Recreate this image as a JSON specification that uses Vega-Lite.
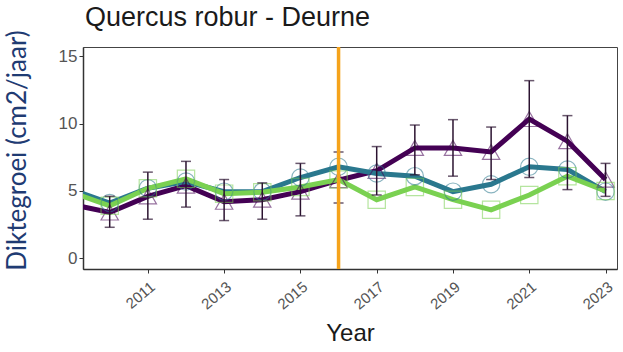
{
  "$schema": "https://vega.github.io/schema/vega-lite/v6.json",
  "width": 534,
  "height": 222,
  "autosize": "none",
  "padding": {"left": 83, "top": 47, "right": 6, "bottom": 83},
  "background": "white",
  "config": {
    "view": {"stroke": "#444", "strokeWidth": 1},
    "axis": {"grid": false, "domainColor": "#333", "domainWidth": 1.5, "tickColor": "#333", "labelColor": "#555", "labelFont": "Liberation Sans", "titleFont": "Liberation Sans"}
  },
  "title": {"text": "Quercus robur - Deurne", "anchor": "start", "frame": "group", "dx": 2, "dy": 14, "offset": 12, "fontSize": 27, "font": "Liberation Sans", "fontWeight": "normal", "color": "#1a1a1a"},
  "datasets": {
    "lines": [
      {"year": 2009, "series": "P", "value": 4.0}, {"year": 2010, "series": "P", "value": 3.4}, {"year": 2011, "series": "P", "value": 4.6}, {"year": 2012, "series": "P", "value": 5.4}, {"year": 2013, "series": "P", "value": 4.2}, {"year": 2014, "series": "P", "value": 4.35}, {"year": 2015, "series": "P", "value": 4.95}, {"year": 2016, "series": "P", "value": 5.8}, {"year": 2017, "series": "P", "value": 6.5}, {"year": 2018, "series": "P", "value": 8.2}, {"year": 2019, "series": "P", "value": 8.2}, {"year": 2020, "series": "P", "value": 7.9}, {"year": 2021, "series": "P", "value": 10.35}, {"year": 2022, "series": "P", "value": 8.7}, {"year": 2023, "series": "P", "value": 5.85},
      {"year": 2009, "series": "T", "value": 5.1}, {"year": 2010, "series": "T", "value": 4.1}, {"year": 2011, "series": "T", "value": 5.2}, {"year": 2012, "series": "T", "value": 5.7}, {"year": 2013, "series": "T", "value": 4.95}, {"year": 2014, "series": "T", "value": 4.95}, {"year": 2015, "series": "T", "value": 6.0}, {"year": 2016, "series": "T", "value": 6.8}, {"year": 2017, "series": "T", "value": 6.3}, {"year": 2018, "series": "T", "value": 6.1}, {"year": 2019, "series": "T", "value": 4.95}, {"year": 2020, "series": "T", "value": 5.5}, {"year": 2021, "series": "T", "value": 6.8}, {"year": 2022, "series": "T", "value": 6.6}, {"year": 2023, "series": "T", "value": 4.95},
      {"year": 2009, "series": "G", "value": 4.9}, {"year": 2010, "series": "G", "value": 3.9}, {"year": 2011, "series": "G", "value": 5.2}, {"year": 2012, "series": "G", "value": 5.9}, {"year": 2013, "series": "G", "value": 4.8}, {"year": 2014, "series": "G", "value": 4.9}, {"year": 2015, "series": "G", "value": 5.3}, {"year": 2016, "series": "G", "value": 5.85}, {"year": 2017, "series": "G", "value": 4.35}, {"year": 2018, "series": "G", "value": 5.3}, {"year": 2019, "series": "G", "value": 4.35}, {"year": 2020, "series": "G", "value": 3.6}, {"year": 2021, "series": "G", "value": 4.7}, {"year": 2022, "series": "G", "value": 6.1}, {"year": 2023, "series": "G", "value": 5.0}
    ],
    "err": [
      {"year": 2010, "lo": 2.3, "hi": 4.6}, {"year": 2011, "lo": 2.9, "hi": 6.4}, {"year": 2012, "lo": 3.8, "hi": 7.2}, {"year": 2013, "lo": 2.8, "hi": 5.85}, {"year": 2014, "lo": 2.9, "hi": 5.6}, {"year": 2015, "lo": 3.15, "hi": 7.05}, {"year": 2016, "lo": 4.1, "hi": 7.9}, {"year": 2017, "lo": 4.7, "hi": 8.3}, {"year": 2018, "lo": 6.2, "hi": 9.9}, {"year": 2019, "lo": 6.1, "hi": 10.3}, {"year": 2020, "lo": 5.85, "hi": 9.75}, {"year": 2021, "lo": 6.0, "hi": 13.2}, {"year": 2022, "lo": 5.1, "hi": 10.6}, {"year": 2023, "lo": 4.6, "hi": 7.05}
    ],
    "marker": [{"year": 2016}]
  },
  "encoding": {
    "x": {"field": "year", "type": "quantitative", "scale": {"domain": [2009.3, 2023.3], "nice": false, "zero": false},
      "axis": {"title": "Year", "values": [2011, 2013, 2015, 2017, 2019, 2021, 2023], "format": "d", "labelAngle": -40, "labelAlign": "right", "labelBaseline": "top", "labelFontSize": 15, "labelPadding": 6, "tickSize": 4, "titleFontSize": 24, "titleFontWeight": "normal", "titleColor": "#1a1a1a", "titlePadding": 10}}
  },
  "layer": [
    {
      "data": {"name": "lines"},
      "mark": {"type": "line", "strokeWidth": 5, "clip": true},
      "encoding": {
        "y": {"field": "value", "type": "quantitative", "scale": {"domain": [-0.8, 15.7], "nice": false, "zero": false},
          "axis": {"title": "Diktegroei (cm2/jaar)", "values": [0, 5, 10, 15], "labelFontSize": 17, "tickSize": 4, "titleFont": "Lato", "titleFontSize": 26, "titleFontWeight": "normal", "titleColor": "#1F3B73", "titleX": -66, "titleY": 103, "titleBaseline": "middle", "titleAlign": "center", "titleAngle": -90}},
        "color": {"field": "series", "type": "nominal", "scale": {"domain": ["G", "T", "P"], "range": ["#7AD151", "#2A788E", "#440154"]}, "legend": null},
        "order": {"field": "year"},
        "detail": {"field": "series"}
      }
    },
    {
      "data": {"name": "lines"},
      "transform": [{"filter": "datum.year >= 2010"}],
      "mark": {"type": "point", "filled": false, "strokeWidth": 1.2, "opacity": 0.55, "size": 300, "clip": true},
      "encoding": {
        "y": {"field": "value", "type": "quantitative"},
        "color": {"field": "series", "type": "nominal", "legend": null},
        "shape": {"field": "series", "type": "nominal", "scale": {"domain": ["G", "T", "P"], "range": ["square", "circle", "triangle-up"]}, "legend": null}
      }
    },
    {
      "data": {"name": "err"},
      "mark": {"type": "rule", "color": "#2b1330", "strokeWidth": 1.5, "clip": true},
      "encoding": {"y": {"field": "lo", "type": "quantitative"}, "y2": {"field": "hi"}}
    },
    {
      "data": {"name": "err"},
      "mark": {"type": "tick", "orient": "horizontal", "color": "#2b1330", "size": 10, "thickness": 1.5, "clip": true},
      "encoding": {"y": {"field": "lo", "type": "quantitative"}}
    },
    {
      "data": {"name": "err"},
      "mark": {"type": "tick", "orient": "horizontal", "color": "#2b1330", "size": 10, "thickness": 1.5, "clip": true},
      "encoding": {"y": {"field": "hi", "type": "quantitative"}}
    },
    {
      "data": {"name": "marker"},
      "mark": {"type": "rule", "color": "#F5A31B", "strokeWidth": 3.5},
      "encoding": {}
    }
  ]
}
